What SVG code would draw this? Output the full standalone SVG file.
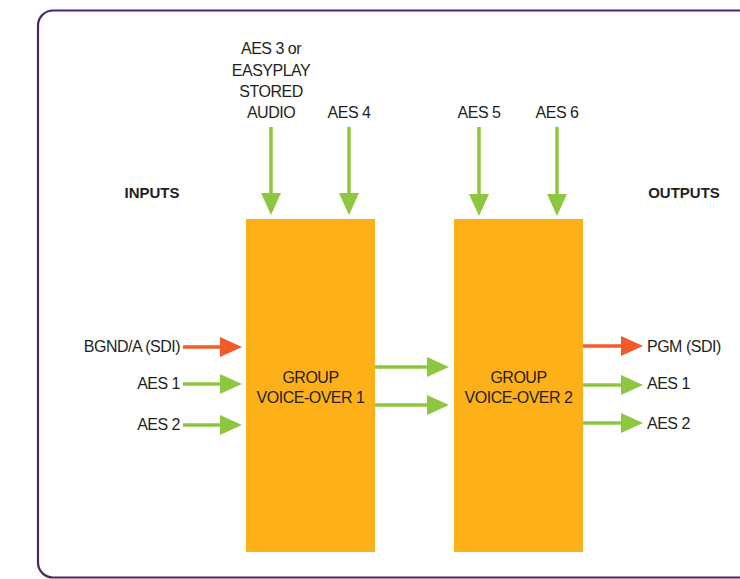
<svg xmlns="http://www.w3.org/2000/svg" width="740" height="579" viewBox="0 0 740 579">
  <style>
    .lbl { font-family: "Liberation Sans", Arial, sans-serif; font-size: 16px; letter-spacing: -0.5px; fill: #231f20; }
    .hdr { font-family: "Liberation Sans", Arial, sans-serif; font-size: 15px; font-weight: bold; fill: #231f20; }
    .box { fill: #fdb018; }
    .g { stroke: #8dc63f; stroke-width: 3.5; fill: none; }
    .r { stroke: #f15a29; stroke-width: 3.5; fill: none; }
    .gh { fill: #8dc63f; }
    .rh { fill: #f15a29; }
  </style>
  <defs>
    <!-- arrowheads drawn as separate shapes for exact tip placement -->
    <path id="headR" d="M0,0 L-22,-10 L-22,10 Z"/>
    <path id="headD" d="M0,0 L-10,-22 L10,-22 Z"/>
  </defs>

  <rect width="740" height="579" fill="#ffffff"/>
  <!-- frame -->
  <rect x="38" y="10.5" width="740" height="567" rx="15" ry="15" fill="none" stroke="#4b2662" stroke-width="2.2"/>

  <!-- headers -->
  <text class="hdr" x="152" y="198" text-anchor="middle">INPUTS</text>
  <text class="hdr" x="684" y="198" text-anchor="middle">OUTPUTS</text>

  <!-- nodes -->
  <g id="vo1">
    <rect class="box" x="246" y="219" width="129" height="333"/>
    <text class="lbl" x="310.5" y="383" text-anchor="middle">GROUP</text>
    <text class="lbl" x="310.5" y="403" text-anchor="middle">VOICE-OVER 1</text>
  </g>
  <g id="vo2">
    <rect class="box" x="454" y="219" width="129" height="333"/>
    <text class="lbl" x="518.5" y="383" text-anchor="middle">GROUP</text>
    <text class="lbl" x="518.5" y="403" text-anchor="middle">VOICE-OVER 2</text>
  </g>

  <!-- labels -->
  <g id="labels">
    <text class="lbl" x="271" y="54" text-anchor="middle">AES 3 or</text>
    <text class="lbl" x="271" y="76" text-anchor="middle">EASYPLAY</text>
    <text class="lbl" x="271" y="97" text-anchor="middle">STORED</text>
    <text class="lbl" x="271" y="118" text-anchor="middle">AUDIO</text>
    <text class="lbl" x="349" y="118" text-anchor="middle">AES 4</text>
    <text class="lbl" x="479" y="118" text-anchor="middle">AES 5</text>
    <text class="lbl" x="557" y="118" text-anchor="middle">AES 6</text>
    <text class="lbl" x="180" y="352" text-anchor="end">BGND/A (SDI)</text>
    <text class="lbl" x="180" y="389" text-anchor="end">AES 1</text>
    <text class="lbl" x="180" y="430" text-anchor="end">AES 2</text>
    <text class="lbl" x="647" y="352" text-anchor="start">PGM (SDI)</text>
    <text class="lbl" x="647" y="389" text-anchor="start">AES 1</text>
    <text class="lbl" x="647" y="429" text-anchor="start">AES 2</text>
  </g>

  <!-- connectors -->
  <g id="connectors">
    <!-- top inputs -->
    <line class="g" x1="271" y1="127" x2="271" y2="196"/>
    <use href="#headD" class="gh" x="271" y="215"/>
    <line class="g" x1="349" y1="127" x2="349" y2="196"/>
    <use href="#headD" class="gh" x="349" y="215"/>
    <line class="g" x1="479" y1="127" x2="479" y2="196"/>
    <use href="#headD" class="gh" x="479" y="216"/>
    <line class="g" x1="557" y1="127" x2="557" y2="196"/>
    <use href="#headD" class="gh" x="557" y="216"/>

    <!-- left inputs -->
    <line class="r" x1="183" y1="347" x2="222" y2="347"/>
    <use href="#headR" class="rh" x="242" y="347"/>
    <line class="g" x1="183" y1="384" x2="222" y2="384"/>
    <use href="#headR" class="gh" x="242" y="384"/>
    <line class="g" x1="183" y1="425" x2="222" y2="425"/>
    <use href="#headR" class="gh" x="242" y="425"/>

    <!-- between groups -->
    <line class="g" x1="375" y1="367" x2="429" y2="367"/>
    <use href="#headR" class="gh" x="449" y="367"/>
    <line class="g" x1="375" y1="405" x2="429" y2="405"/>
    <use href="#headR" class="gh" x="449" y="405"/>

    <!-- outputs -->
    <line class="r" x1="583" y1="346" x2="623" y2="346"/>
    <use href="#headR" class="rh" x="643" y="346"/>
    <line class="g" x1="583" y1="385" x2="623" y2="385"/>
    <use href="#headR" class="gh" x="643" y="385"/>
    <line class="g" x1="583" y1="423" x2="623" y2="423"/>
    <use href="#headR" class="gh" x="643" y="423"/>
  </g>
</svg>
